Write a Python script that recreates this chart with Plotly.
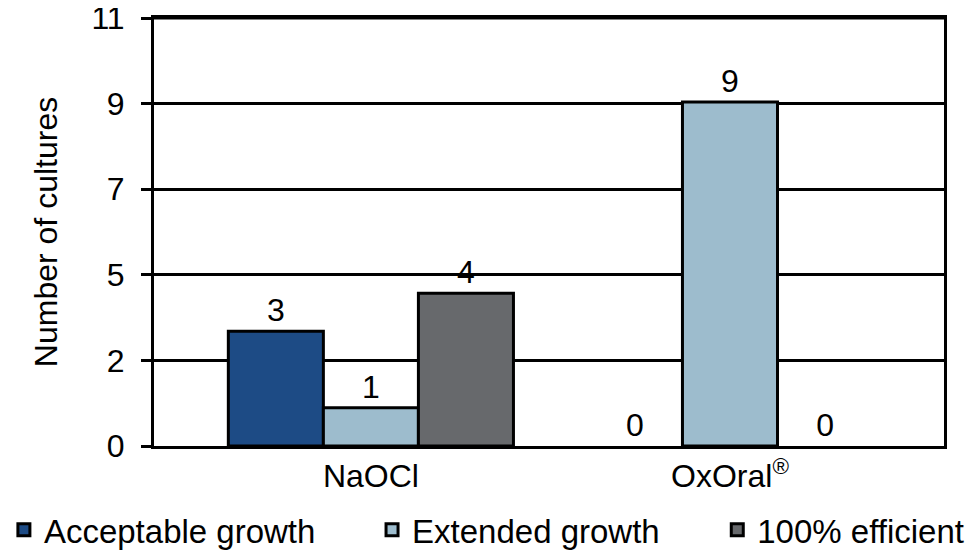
import plotly.graph_objects as go

categories = ["NaOCl", "OxOral<sup>®</sup>"]
series_names = ["Acceptable growth", "Extended growth", "100% efficient"]
acceptable = [3, 0]
extended = [1, 9]
efficient = [4, 0]
tick_vals = [0, 2.24, 4.48, 6.72, 8.96, 11.2]
tick_text = ["0", "2", "5", "7", "9", "11"]

colors = ["#1d4b85", "#9dbccd", "#67696c"]
legend_ids = ["legend", "legend2", "legend3"]
legend_x = [-0.190, 0.276, 0.713]
FONT = "Liberation Sans, Arial, sans-serif"
FS = 32

fig = go.Figure()
for name, vals, col, lid in zip(series_names, [acceptable, extended, efficient], colors, legend_ids):
    fig.add_trace(go.Bar(
        name=name, x=categories, y=vals, legend=lid,
        marker=dict(color=col, line=dict(color="black", width=[3 if v > 0 else 0 for v in vals])),
        text=[str(v) for v in vals], textposition="outside",
        textfont=dict(size=FS, color="black", family=FONT),
        cliponaxis=False,
    ))

legend_common = dict(orientation="h", xanchor="left", y=-0.196, yanchor="middle",
                     font=dict(size=33, family=FONT), itemwidth=30,
                     bgcolor="rgba(0,0,0,0)")

fig.update_layout(
    width=967, height=547,
    margin=dict(l=146, r=31, t=10, b=109, autoexpand=False),
    barmode="group", bargap=0.206, bargroupgap=0,
    plot_bgcolor="white", paper_bgcolor="white",
    font=dict(family=FONT, size=FS, color="black"),
    showlegend=True,
    legend=dict(x=legend_x[0], **legend_common),
    legend2=dict(x=legend_x[1], **legend_common),
    legend3=dict(x=legend_x[2], **legend_common),
    shapes=[dict(type="line", xref="paper", yref="paper", x0=0, x1=1, y0=1, y1=1,
                 line=dict(color="black", width=3), layer="above")],
)
fig.update_xaxes(
    range=[-0.604, 1.596], showline=True, linecolor="black", linewidth=3, mirror=True,
    ticks="", tickfont=dict(size=FS, family=FONT), showgrid=False, fixedrange=True,
    automargin=False,
)
fig.update_yaxes(
    range=[0, max(tick_vals) + 0.001], tickvals=tick_vals, ticktext=tick_text,
    showline=True, linecolor="black", linewidth=3, mirror=True,
    showgrid=True, gridcolor="black", gridwidth=3,
    ticks="outside", ticklen=10, tickwidth=3, tickcolor="black",
    ticklabelstandoff=10, ticklabeloverflow="allow",
    tickfont=dict(size=FS, family=FONT),
    title=dict(text="Number of cultures", font=dict(size=FS, family=FONT), standoff=25),
    zeroline=False, automargin=False,
)
fig.write_html("out.html")
